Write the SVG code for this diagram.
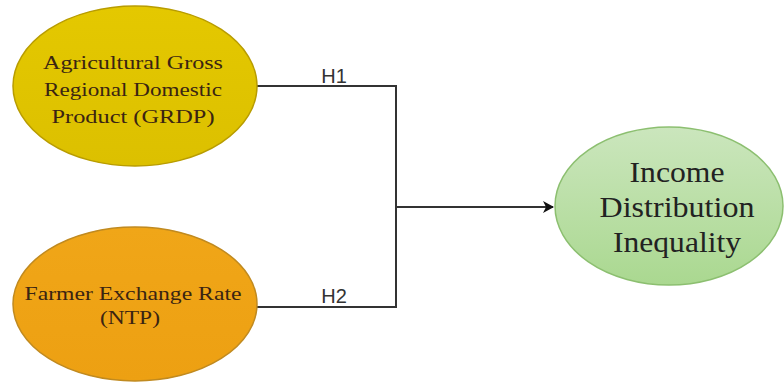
<svg xmlns="http://www.w3.org/2000/svg" width="784" height="383" viewBox="0 0 784 383">
<defs>
<linearGradient id="gY" x1="0" y1="0" x2="0" y2="1"><stop offset="0" stop-color="#e4c800"/><stop offset="1" stop-color="#dcc000"/></linearGradient>
<linearGradient id="gO" x1="0" y1="0" x2="0" y2="1"><stop offset="0" stop-color="#f0a618"/><stop offset="1" stop-color="#eda012"/></linearGradient>
<linearGradient id="gG" x1="0" y1="0" x2="0" y2="1"><stop offset="0" stop-color="#cbe6bd"/><stop offset="1" stop-color="#aad890"/></linearGradient>
<marker id="arr" markerWidth="12" markerHeight="12" refX="10" refY="6" orient="auto" markerUnits="userSpaceOnUse"><path d="M0,0 L11,6 L0,12 L3,6 Z" fill="#111"/></marker>
<style>
.lbl{font-family:"Liberation Serif",serif;fill:#3a2412;text-anchor:middle}
.h{font-family:"Liberation Sans",Arial,sans-serif;font-size:20px;fill:#333;text-anchor:middle}
.ed{fill:none;stroke:#333;stroke-width:2}
.g{font-family:"Liberation Serif",serif;fill:#222;text-anchor:middle;font-size:29px}
</style>
</defs>
<rect width="784" height="383" fill="#fff"/>
<g id="connectors">
<path class="ed" d="M257,86 H396 V307 H257"/>
<path class="ed" d="M396,207 H553" marker-end="url(#arr)"/>
<text class="h" x="334" y="83">H1</text>
<text class="h" x="334" y="303">H2</text>
</g>
<g id="grdp">
<ellipse cx="135" cy="86" rx="122" ry="80" fill="url(#gY)" stroke="#b89c00" stroke-width="1.5"/>
<text class="lbl" font-size="19" x="133" y="69" textLength="180" lengthAdjust="spacingAndGlyphs">Agricultural Gross</text>
<text class="lbl" font-size="19" x="133" y="96" textLength="178" lengthAdjust="spacingAndGlyphs">Regional Domestic</text>
<text class="lbl" font-size="19" x="133" y="123" textLength="163" lengthAdjust="spacingAndGlyphs">Product (GRDP)</text>
</g>
<g id="ntp">
<ellipse cx="135" cy="304" rx="122" ry="77" fill="url(#gO)" stroke="#c08a20" stroke-width="1.5"/>
<text class="lbl" font-size="19" x="133" y="300" textLength="217" lengthAdjust="spacingAndGlyphs">Farmer Exchange Rate</text>
<text class="lbl" font-size="19" x="130" y="324" textLength="60" lengthAdjust="spacingAndGlyphs">(NTP)</text>
</g>
<g id="inequality">
<ellipse cx="669" cy="206" rx="114" ry="79" fill="url(#gG)" stroke="#8cbf70" stroke-width="1.5"/>
<text class="g" x="677" y="182" textLength="95" lengthAdjust="spacingAndGlyphs">Income</text>
<text class="g" x="677" y="217" textLength="155" lengthAdjust="spacingAndGlyphs">Distribution</text>
<text class="g" x="677" y="252" textLength="128" lengthAdjust="spacingAndGlyphs">Inequality</text>
</g>
</svg>
